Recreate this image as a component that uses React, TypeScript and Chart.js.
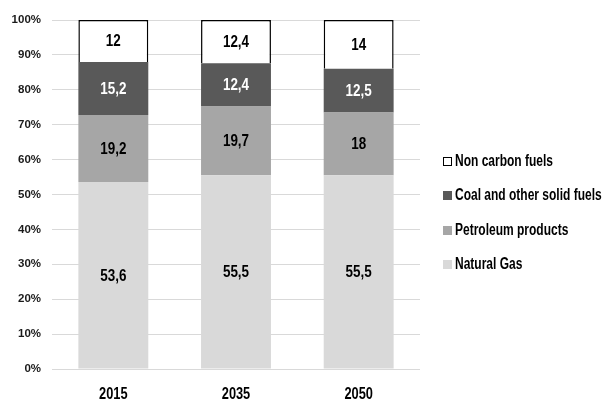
import React, { useEffect, useRef } from "react";
import { Chart, registerables } from "chart.js";

Chart.register(...registerables);

const categories = ["2015", "2035", "2050"];
const naturalGas = [53.6, 55.5, 55.5];
const petroleum = [19.2, 19.7, 18];
const coal = [15.2, 12.4, 12.5];
const nonCarbon = [12, 12.4, 14];
const yTicks = [0, 10, 20, 30, 40, 50, 60, 70, 80, 90, 100];

const FONT = "'Liberation Sans', Arial, sans-serif";

const labelColors = ["#000000", "#000000", "#ffffff", "#000000"];

function drawNarrow(ctx: any, text: string, x: number, y: number, size: number, sx: number, align: string, color: string) {
  ctx.save();
  ctx.translate(x, y);
  ctx.scale(sx, 1);
  ctx.font = `bold ${size}px ${FONT}`;
  ctx.textAlign = align;
  ctx.textBaseline = "middle";
  ctx.fillStyle = color;
  ctx.fillText(text, 0, 0);
  ctx.restore();
}

const valueLabels = {
  id: "valueLabels",
  afterDatasetsDraw(chart: any) {
    const ctx = chart.ctx;
    chart.data.datasets.forEach((ds: any, i: number) => {
      const meta = chart.getDatasetMeta(i);
      meta.data.forEach((el: any, j: number) => {
        const p = el.getCenterPoint();
        drawNarrow(ctx, String(ds.data[j]).replace(".", ","), p.x, p.y + 1, 16, 0.84, "center", labelColors[i]);
      });
    });
  },
};

const xLabels = {
  id: "xLabels",
  afterDraw(chart: any) {
    const ctx = chart.ctx;
    const xs = chart.scales.x;
    xs.ticks.forEach((_t: any, i: number) => {
      const x = xs.getPixelForTick(i);
      drawNarrow(ctx, String(chart.data.labels[i]), x, xs.top + 26, 16, 0.8, "center", "#000000");
    });
  },
};

const customLegend = {
  id: "customLegend",
  afterDraw(chart: any) {
    const ctx = chart.ctx;
    const ds = chart.data.datasets;
    const startY = 161.5;
    const step = 34.3;
    for (let k = 0; k < ds.length; k++) {
      const d = ds[ds.length - 1 - k];
      const y = startY + k * step;
      const bx = 443;
      const by = Math.round(y - 4.5);
      ctx.save();
      ctx.fillStyle = d.backgroundColor;
      ctx.fillRect(bx, by, 9, 9);
      if (d.borderWidth) {
        ctx.strokeStyle = "#000000";
        ctx.lineWidth = 1;
        ctx.strokeRect(bx + 0.5, by + 0.5, 8, 8);
      }
      ctx.restore();
      drawNarrow(ctx, d.label, 455, y, 16, 0.75, "left", "#000000");
    }
  },
};

export default function App() {
  const ref = useRef<HTMLCanvasElement>(null);
  useEffect(() => {
    if (!ref.current) return;
    const chart = new Chart(ref.current, {
      type: "bar",
      data: {
        labels: categories,
        datasets: [
          { label: "Natural Gas", data: naturalGas, backgroundColor: "#d9d9d9", borderWidth: 0 },
          { label: "Petroleum products", data: petroleum, backgroundColor: "#a6a6a6", borderWidth: 0 },
          { label: "Coal and other solid fuels", data: coal, backgroundColor: "#595959", borderWidth: 0 },
          { label: "Non carbon fuels", data: nonCarbon, backgroundColor: "#ffffff", borderColor: "#000000", borderWidth: 1.5 },
        ],
      },
      options: {
        animation: false,
        responsive: false,
        maintainAspectRatio: false,
        layout: { padding: { top: 20, right: 186, left: 0, bottom: 0 } },
        plugins: { legend: { display: false }, tooltip: { enabled: false } },
        datasets: { bar: { categoryPercentage: 1, barPercentage: 0.57 } },
        scales: {
          x: {
            stacked: true,
            grid: { display: false, drawTicks: false },
            border: { display: false },
            ticks: { display: false },
            afterFit: (s: any) => { s.height = 34; },
          },
          y: {
            stacked: true,
            min: 0,
            max: 100,
            afterBuildTicks: (s: any) => { s.ticks = yTicks.map((v) => ({ value: v })); },
            grid: { color: "#d9d9d9", drawTicks: false, lineWidth: 1 },
            border: { display: false },
            ticks: {
              color: "#1a1a1a",
              font: { family: FONT, size: 11.5, weight: "bold" },
              padding: 11,
              callback: (v: any) => `${v}%`,
            },
            afterFit: (s: any) => { s.width = 52; },
          },
        },
      },
      plugins: [valueLabels, xLabels, customLegend],
    });
    return () => chart.destroy();
  }, []);
  return (
    <div style={{ position: "fixed", left: 0, top: 0, width: 606, height: 403, background: "#fff" }}>
      <canvas ref={ref} width={606} height={403} style={{ width: 606, height: 403 }} />
    </div>
  );
}
